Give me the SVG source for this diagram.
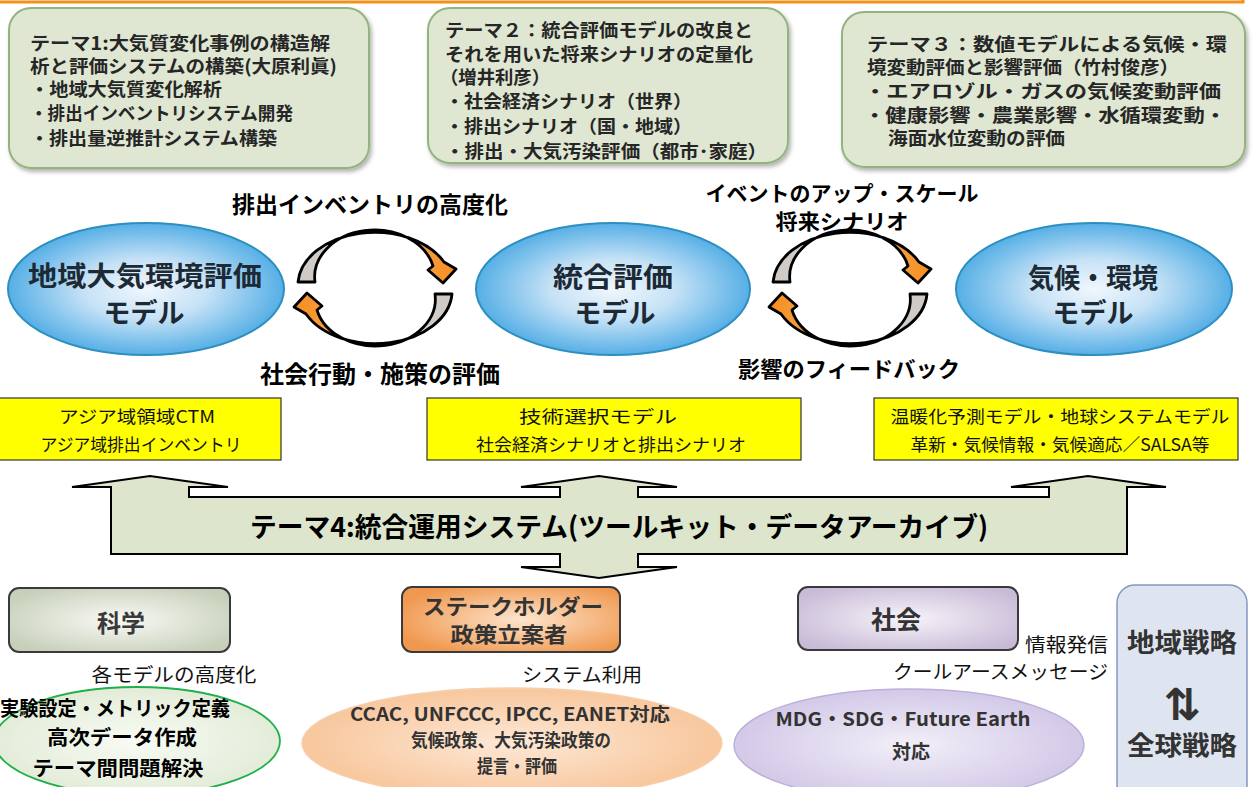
<svg xmlns="http://www.w3.org/2000/svg" width="1255" height="787" viewBox="0 0 1255 787">
<defs>
<style>
text{font-family:"Noto Sans CJK JP","Noto Sans CJK SC",sans-serif;dominant-baseline:central;}
.tb{font-size:18px;font-weight:700;fill:#262626;}
.ell{font-size:27px;font-weight:700;fill:#1d2a35;text-anchor:middle;}
.lbl{font-weight:700;fill:#000;text-anchor:middle;}
.yel{font-size:17.5px;fill:#111;text-anchor:middle;}
.note{font-size:19px;fill:#111;}
.topbox{fill:#dfe7d2;stroke:#94b47e;stroke-width:2;}
.ybox{fill:#ffff00;stroke:#333;stroke-width:1.2;}
.carrow{fill:url(#arrowGrad);stroke:#000;stroke-width:2.8;stroke-linejoin:round;}
.bbox{stroke:#3a3a3a;stroke-width:2;}
</style>
<filter id="shadow" x="-10%" y="-10%" width="120%" height="130%">
<feDropShadow dx="2" dy="3" stdDeviation="2" flood-color="#000" flood-opacity="0.3"/>
</filter>
<linearGradient id="arrowGrad" x1="0" y1="0" x2="1" y2="0">
<stop offset="0" stop-color="#cfcac5"/>
<stop offset="0.6" stop-color="#d8d2cc"/>
<stop offset="0.72" stop-color="#f3a24f"/>
<stop offset="1" stop-color="#f78e1c"/>
</linearGradient>
<radialGradient id="blueG" cx="50%" cy="50%" r="50%">
<stop offset="0" stop-color="#f0f7fd"/>
<stop offset="0.45" stop-color="#c6e2f6"/>
<stop offset="1" stop-color="#56afe6"/>
</radialGradient>
<radialGradient id="kagakuG" cx="50%" cy="50%" r="60%">
<stop offset="0" stop-color="#fafaf5"/>
<stop offset="1" stop-color="#c6cfba"/>
</radialGradient>
<radialGradient id="stakeG" cx="55%" cy="50%" r="60%">
<stop offset="0" stop-color="#fde5cd"/>
<stop offset="1" stop-color="#f0984f"/>
</radialGradient>
<radialGradient id="shakaiG" cx="50%" cy="50%" r="60%">
<stop offset="0" stop-color="#f6f3f9"/>
<stop offset="1" stop-color="#c8bbd7"/>
</radialGradient>
<radialGradient id="greenE" cx="50%" cy="50%" r="50%">
<stop offset="0" stop-color="#f8fbf4"/>
<stop offset="1" stop-color="#e3ecd8"/>
</radialGradient>
<radialGradient id="peachE" cx="50%" cy="50%" r="50%">
<stop offset="0" stop-color="#fde8d6"/>
<stop offset="1" stop-color="#f8c79d"/>
</radialGradient>
<radialGradient id="lavE" cx="50%" cy="50%" r="50%">
<stop offset="0" stop-color="#f2eff8"/>
<stop offset="1" stop-color="#d3c9e8"/>
</radialGradient>
<path id="carc" d="M -77,-6 A 77 53 0 0 1 69,-26 L 81,-19 L 68,-5 L 53,-18 L 58,-22 A 60 47 0 0 0 -60,-6 Z"/>
</defs>

<rect width="1255" height="787" fill="#ffffff"/>
<path d="M -5,2 H 1243 V -5" fill="none" stroke="#f39019" stroke-width="3"/>

<!-- Top theme boxes -->
<g id="theme1">
<rect class="topbox" x="9" y="8" width="360" height="160" rx="22" filter="url(#shadow)"/>
<text class="tb" x="30" y="42" textLength="300" lengthAdjust="spacingAndGlyphs">テーマ1:大気質変化事例の構造解</text>
<text class="tb" x="30" y="65" textLength="307" lengthAdjust="spacingAndGlyphs">析と評価システムの構築(大原利眞)</text>
<text class="tb" x="30" y="88" textLength="192" lengthAdjust="spacingAndGlyphs">・地域大気質変化解析</text>
<text class="tb" x="30" y="112" textLength="263" lengthAdjust="spacingAndGlyphs">・排出インベントリシステム開発</text>
<text class="tb" x="30" y="137" textLength="247" lengthAdjust="spacingAndGlyphs">・排出量逆推計システム構築</text>
</g>
<g id="theme2">
<rect class="topbox" x="428" y="8" width="360" height="155" rx="22" filter="url(#shadow)"/>
<text class="tb" x="445" y="29" textLength="308" lengthAdjust="spacingAndGlyphs">テーマ２：統合評価モデルの改良と</text>
<text class="tb" x="445" y="53" textLength="308" lengthAdjust="spacingAndGlyphs">それを用いた将来シナリオの定量化</text>
<text class="tb" x="440" y="76" textLength="110" lengthAdjust="spacingAndGlyphs">（増井利彦）</text>
<text class="tb" x="445" y="100" textLength="247" lengthAdjust="spacingAndGlyphs">・社会経済シナリオ（世界）</text>
<text class="tb" x="445" y="125" textLength="247" lengthAdjust="spacingAndGlyphs">・排出シナリオ（国・地域）</text>
<text class="tb" x="445" y="150" textLength="322" lengthAdjust="spacingAndGlyphs">・排出・大気汚染評価（都市･家庭）</text>
</g>
<g id="theme3">
<rect class="topbox" x="842" y="12" width="403" height="155" rx="22" filter="url(#shadow)"/>
<text class="tb" x="867" y="43" textLength="360" lengthAdjust="spacingAndGlyphs">テーマ３：数値モデルによる気候・環</text>
<text class="tb" x="867" y="66" textLength="312" lengthAdjust="spacingAndGlyphs">境変動評価と影響評価（竹村俊彦）</text>
<text class="tb" x="864" y="90" textLength="357" lengthAdjust="spacingAndGlyphs">・エアロゾル・ガスの気候変動評価</text>
<text class="tb" x="864" y="114" textLength="362" lengthAdjust="spacingAndGlyphs">・健康影響・農業影響・水循環変動・</text>
<text class="tb" x="888" y="137" textLength="177" lengthAdjust="spacingAndGlyphs">海面水位変動の評価</text>
</g>

<!-- Model ellipses -->
<g id="model-regional">
<ellipse cx="146" cy="289" rx="138" ry="66" fill="url(#blueG)" stroke="#2d8fbf" stroke-width="2"/>
<text class="ell" x="145" y="274" textLength="234" lengthAdjust="spacingAndGlyphs">地域大気環境評価</text>
<text class="ell" x="144" y="311">モデル</text>
</g>
<g id="model-integrated">
<ellipse cx="613" cy="289" rx="137" ry="66" fill="url(#blueG)" stroke="#2d8fbf" stroke-width="2"/>
<text class="ell" x="613" y="275" textLength="120" lengthAdjust="spacingAndGlyphs">統合評価</text>
<text class="ell" x="615" y="311">モデル</text>
</g>
<g id="model-climate">
<ellipse cx="1094" cy="289" rx="138" ry="66" fill="url(#blueG)" stroke="#2d8fbf" stroke-width="2"/>
<text class="ell" x="1093" y="276" textLength="130" lengthAdjust="spacingAndGlyphs">気候・環境</text>
<text class="ell" x="1093" y="311">モデル</text>
</g>

<!-- Connectors: cycle arrows -->
<g id="connectors">
<use href="#carc" class="carrow" transform="translate(375,288)"/>
<use href="#carc" class="carrow" transform="translate(375,288) rotate(180)"/>
<use href="#carc" class="carrow" transform="translate(850,288)"/>
<use href="#carc" class="carrow" transform="translate(850,288) rotate(180)"/>
</g>

<g id="labels-cycle">
<text class="lbl" x="370" y="203" font-size="23" textLength="276" lengthAdjust="spacingAndGlyphs">排出インベントリの高度化</text>
<text class="lbl" x="380" y="372" font-size="24" textLength="240" lengthAdjust="spacingAndGlyphs">社会行動・施策の評価</text>
<text class="lbl" x="842" y="192" font-size="21" textLength="273" lengthAdjust="spacingAndGlyphs">イベントのアップ・スケール</text>
<text class="lbl" x="842" y="220" font-size="21" textLength="133" lengthAdjust="spacingAndGlyphs">将来シナリオ</text>
<text class="lbl" x="849" y="367" font-size="22" textLength="222" lengthAdjust="spacingAndGlyphs">影響のフィードバック</text>
</g>

<!-- Yellow boxes -->
<g id="ybox1">
<rect class="ybox" x="-1" y="398" width="282" height="62"/>
<text class="yel" x="137" y="415" textLength="156" lengthAdjust="spacingAndGlyphs">アジア域領域CTM</text>
<text class="yel" x="141" y="443" textLength="201" lengthAdjust="spacingAndGlyphs">アジア域排出インベントリ</text>
</g>
<g id="ybox2">
<rect class="ybox" x="427" y="398" width="374" height="62"/>
<text class="yel" x="598" y="415" textLength="158" lengthAdjust="spacingAndGlyphs">技術選択モデル</text>
<text class="yel" x="611" y="443" textLength="270" lengthAdjust="spacingAndGlyphs">社会経済シナリオと排出シナリオ</text>
</g>
<g id="ybox3">
<rect class="ybox" x="874" y="398" width="364" height="62"/>
<text class="yel" x="1060" y="415" textLength="339" lengthAdjust="spacingAndGlyphs">温暖化予測モデル・地球システムモデル</text>
<text class="yel" x="1060" y="443" textLength="299" lengthAdjust="spacingAndGlyphs">革新・気候情報・気候適応／SALSA等</text>
</g>

<!-- Theme 4 big arrow -->
<g id="theme4">
<path d="M 72,487 L 150,476 L 228,487 L 189,487 L 189,497 L 560,497 L 560,487 L 521,487 L 599,476 L 677,487 L 638,487 L 638,497 L 1049,497 L 1049,487 L 1011,487 L 1088,476 L 1166,487 L 1127,487 L 1127,554 L 638,554 L 638,567 L 677,567 L 599,578 L 521,567 L 560,567 L 560,554 L 111,554 L 111,487 Z" fill="#dde5cc" stroke="#000" stroke-width="2" stroke-linejoin="miter"/>
<text class="lbl" x="619" y="525" font-size="27" textLength="738" lengthAdjust="spacingAndGlyphs">テーマ4:統合運用システム(ツールキット・データアーカイブ)</text>
</g>

<!-- Bottom: science -->
<g id="science">
<rect class="bbox" x="9" y="588" width="221" height="64" rx="10" fill="url(#kagakuG)"/>
<text x="121" y="621" font-size="24" font-weight="700" fill="#3a3a3a" text-anchor="middle">科学</text>
</g>
<text class="note" x="174" y="673" text-anchor="middle" textLength="165" lengthAdjust="spacingAndGlyphs">各モデルの高度化</text>
<g id="science-ellipse">
<ellipse cx="137" cy="741" rx="143" ry="54" fill="url(#greenE)" stroke="#1fb04a" stroke-width="1.8"/>
<text x="115" y="707" font-size="20" font-weight="700" fill="#000" text-anchor="middle" textLength="230" lengthAdjust="spacingAndGlyphs">実験設定・メトリック定義</text>
<text x="122" y="736" font-size="20" font-weight="700" fill="#000" text-anchor="middle" textLength="150" lengthAdjust="spacingAndGlyphs">高次データ作成</text>
<text x="118" y="767" font-size="20" font-weight="700" fill="#000" text-anchor="middle" textLength="171" lengthAdjust="spacingAndGlyphs">テーマ間問題解決</text>
</g>

<!-- Bottom: stakeholder -->
<g id="stakeholder">
<rect class="bbox" x="402" y="587" width="218" height="65" rx="10" fill="url(#stakeG)"/>
<text x="513" y="605" font-size="21" font-weight="700" fill="#333" text-anchor="middle" textLength="180" lengthAdjust="spacingAndGlyphs">ステークホルダー</text>
<text x="509" y="633" font-size="21" font-weight="700" fill="#333" text-anchor="middle" textLength="117" lengthAdjust="spacingAndGlyphs">政策立案者</text>
</g>
<text class="note" x="582" y="673" text-anchor="middle" textLength="120" lengthAdjust="spacingAndGlyphs">システム利用</text>
<g id="stakeholder-ellipse">
<ellipse cx="512" cy="743" rx="210" ry="55" fill="url(#peachE)" stroke="#f6cfae" stroke-width="1.5"/>
<text x="510" y="713" font-size="18" font-weight="700" fill="#333" text-anchor="middle" textLength="320" lengthAdjust="spacingAndGlyphs">CCAC, UNFCCC, IPCC, EANET対応</text>
<text x="511" y="739" font-size="18" font-weight="700" fill="#333" text-anchor="middle" textLength="200" lengthAdjust="spacingAndGlyphs">気候政策、大気汚染政策の</text>
<text x="517" y="765" font-size="18" font-weight="700" fill="#333" text-anchor="middle" textLength="80" lengthAdjust="spacingAndGlyphs">提言・評価</text>
</g>

<!-- Bottom: society -->
<g id="society">
<rect class="bbox" x="798" y="587" width="220" height="63" rx="10" fill="url(#shakaiG)"/>
<text x="896" y="618" font-size="25" font-weight="700" fill="#333" text-anchor="middle">社会</text>
</g>
<text class="note" x="1025" y="643" textLength="83" lengthAdjust="spacingAndGlyphs">情報発信</text>
<text class="note" x="893" y="670" textLength="215" lengthAdjust="spacingAndGlyphs">クールアースメッセージ</text>
<g id="society-ellipse">
<ellipse cx="909" cy="745" rx="175" ry="56" fill="url(#lavE)" stroke="#bcb0da" stroke-width="1.5"/>
<text x="903" y="717" font-size="19" font-weight="700" fill="#333" text-anchor="middle" textLength="255" lengthAdjust="spacingAndGlyphs">MDG・SDG・Future Earth</text>
<text x="911" y="750" font-size="19" font-weight="700" fill="#333" text-anchor="middle">対応</text>
</g>

<!-- Right strategy box -->
<g id="strategy">
<rect x="1117" y="585" width="130" height="220" rx="18" fill="#dee5f1" stroke="#8597c0" stroke-width="1.5"/>
<text x="1182" y="640" font-size="26" font-weight="700" fill="#333" text-anchor="middle" textLength="110" lengthAdjust="spacingAndGlyphs">地域戦略</text>
<text x="1182" y="704" font-size="44" font-weight="700" fill="#333" text-anchor="middle" style="font-family:'DejaVu Sans',sans-serif">⇅</text>
<text x="1182" y="743" font-size="26" font-weight="700" fill="#333" text-anchor="middle" textLength="110" lengthAdjust="spacingAndGlyphs">全球戦略</text>
</g>
</svg>
